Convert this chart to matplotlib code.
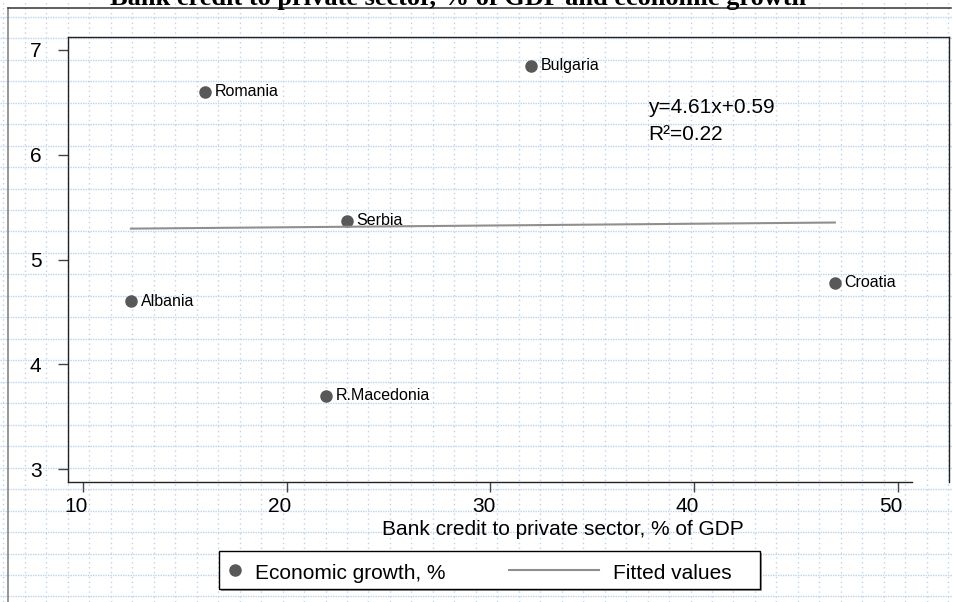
import numpy as np
import matplotlib
matplotlib.use("Agg")
import matplotlib.pyplot as plt
import matplotlib.transforms as mtransforms
from matplotlib.lines import Line2D
from matplotlib.patches import Rectangle

# data
countries = ["Albania", "Romania", "R.Macedonia", "Serbia", "Bulgaria", "Croatia"]
credit = [12.35, 16.0, 21.95, 22.95, 32.0, 46.9]   # bank credit, % of GDP
growth = [4.60, 6.60, 3.70, 5.37, 6.85, 4.78]      # economic growth, %
x_ticks = [10, 20, 30, 40, 50]
y_ticks = [3, 4, 5, 6, 7]

title = "Bank credit to private sector, % of GDP and economic growth"
x_label = "Bank credit to private sector, % of GDP"
eq_text = "y=4.61x+0.59"
r2_text = "R\u00b2=0.22"

plt.rcParams["font.family"] = ["Liberation Sans", "DejaVu Sans"]
plt.rcParams["lines.scale_dashes"] = False

W, H = 954, 602
fig = plt.figure(figsize=(W / 100, H / 100), dpi=100)
fig.patch.set_facecolor("white")

# grid paper behind everything, in pixel coordinates
bg = fig.add_axes([0, 0, 1, 1], zorder=-10)
bg.set_xlim(0, W)
bg.set_ylim(H, 0)
bg.axis("off")
grid_col = "#bcd3ee"
for gx in np.arange(3.5, W, 21.47):
    bg.axvline(gx, color=grid_col, lw=1.0, ls=(0, (1.0, 2.5)))
for gy in np.arange(16.8, H, 21.47):
    bg.axhline(gy, color=grid_col, lw=1.0, ls=(0, (1.0, 0.8)))
bg.plot([8, 8], [8, H], color="#7a7a7a", lw=1.1)
bg.plot([8, 951], [8, 8], color="#333333", lw=1.1)

# main plot
ax = fig.add_axes([68 / W, 1 - 482 / H, (949 - 68) / W, (482 - 37) / H])
ax.set_facecolor("none")

dot_col = "#585858"
fit_col = "#8f8f8f"
ax.scatter(credit, growth, s=64, color=dot_col, zorder=3, clip_on=False)
for name, xv, yv in zip(countries, credit, growth):
    ax.annotate(name, (xv, yv), xytext=(7, 0), textcoords="offset points",
                va="center", fontsize=11.5, zorder=2)

slope, icpt = np.polyfit(credit, growth, 1)
xs = np.array([min(credit), max(credit)])
ax.plot(xs, icpt + slope * xs, color=fit_col, lw=1.5, zorder=4)

ax.text(37.73, 6.40, eq_text, fontsize=15, va="baseline")
ax.text(37.73, 6.14, r2_text, fontsize=15, va="baseline")

ax.set_xlim(9.264, 52.503)
ax.set_ylim(2.876, 7.124)
ax.set_xticks(x_ticks)
ax.set_yticks(y_ticks)
ax.spines["bottom"].set_bounds(9.264, 50.69)
for s in ax.spines.values():
    s.set_linewidth(1.0)
    s.set_color("#222222")
ax.tick_params(direction="out", length=7, width=1, color="#444444", labelsize=15)
ax.tick_params(axis="y", pad=12)
ax.tick_params(axis="x", pad=3.5)
shift = mtransforms.ScaledTranslation(-7 / 100, 0, fig.dpi_scale_trans)
for lbl in ax.get_xticklabels():
    lbl.set_transform(lbl.get_transform() + shift)

fig.text(563 / W, 1 - 535 / H, x_label, ha="center", va="baseline", fontsize=15)
fig.text(458 / W, 1 - 5 / H, title, ha="center", va="baseline", fontsize=19,
         fontweight="bold", family="Liberation Serif")

# legend box drawn by hand (handles sit at different offsets than mpl allows)
fig.add_artist(Rectangle((221 / W, 1 - 591 / H), (760 - 219) / W, (589 - 551) / H,
                         transform=fig.transFigure, facecolor="#999999", edgecolor="none"))
fig.add_artist(Rectangle((219 / W, 1 - 589 / H), (760 - 219) / W, (589 - 551) / H,
                         transform=fig.transFigure, facecolor="white", edgecolor="black", lw=1.0))
ly = 1 - 570 / H
fig.add_artist(Line2D([235 / W], [ly], marker="o", ms=8, color=dot_col, ls="none",
                      transform=fig.transFigure))
fig.text(255 / W, 1 - 579 / H, "Economic growth, %", va="baseline", fontsize=15)
fig.add_artist(Line2D([509 / W, 599 / W], [ly, ly], color=fit_col, lw=1.5,
                      transform=fig.transFigure))
fig.text(613 / W, 1 - 579 / H, "Fitted values", va="baseline", fontsize=15)

fig.savefig("out.png", dpi=100)
